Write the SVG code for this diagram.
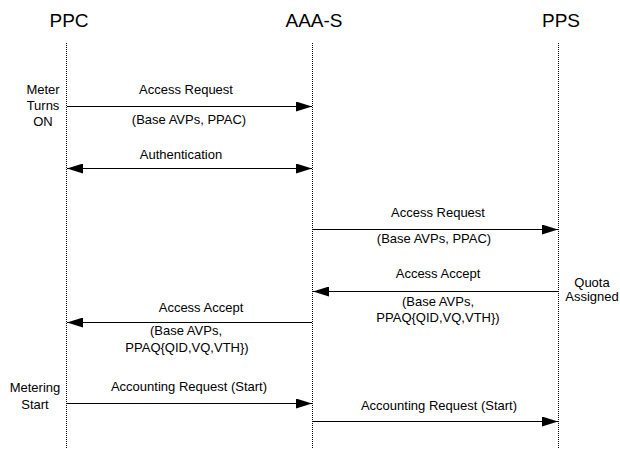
<svg xmlns="http://www.w3.org/2000/svg" width="620" height="449" viewBox="0 0 620 449">
  <style>
    .title { font-family: "Liberation Sans", Arial, sans-serif; font-size: 19px; fill: #000; text-anchor: middle; }
    .lbl { font-family: "Liberation Sans", Arial, sans-serif; font-size: 13px; fill: #000; text-anchor: middle; }
    .life { stroke: #000; stroke-width: 1; stroke-dasharray: 1 1; fill: none; }
    .msg { stroke: #000; stroke-width: 1.2; fill: none; marker-end: url(#ah); }
  </style>
  <defs>
    <marker id="ah" markerUnits="userSpaceOnUse" markerWidth="16" markerHeight="10" refX="16" refY="5" orient="auto-start-reverse" viewBox="0 0 16 10">
      <path d="M0,0 L16,5 L0,10 z" fill="#000"/>
    </marker>
  </defs>
  <rect width="620" height="449" fill="#fff"/>

  <g id="ppc">
    <text class="title" x="69" y="27">PPC</text>
    <line class="life" x1="66.5" y1="43" x2="66.5" y2="449"/>
  </g>
  <g id="aaa-s">
    <text class="title" x="314" y="27">AAA-S</text>
    <line class="life" x1="312.5" y1="43" x2="312.5" y2="449"/>
  </g>
  <g id="pps">
    <text class="title" x="561" y="27">PPS</text>
    <line class="life" x1="558.5" y1="43" x2="558.5" y2="449"/>
  </g>

  <g id="notes">
    <text class="lbl" x="43" y="94">Meter</text>
    <text class="lbl" x="43" y="110">Turns</text>
    <text class="lbl" x="43" y="126">ON</text>
    <text class="lbl" x="592" y="287">Quota</text>
    <text class="lbl" x="592" y="301">Assigned</text>
    <text class="lbl" x="35" y="392">Metering</text>
    <text class="lbl" x="35" y="409">Start</text>
  </g>

  <g id="connectors">
    <g id="m1">
      <line class="msg" x1="67" y1="106.5" x2="312" y2="106.5"/>
      <text class="lbl" x="186" y="94">Access Request</text>
      <text class="lbl" x="189" y="124">(Base AVPs, PPAC)</text>
    </g>
    <g id="m2">
      <line class="msg" x1="67" y1="168.5" x2="312" y2="168.5" style="marker-start:url(#ah)"/>
      <text class="lbl" x="181" y="159">Authentication</text>
    </g>
    <g id="m3">
      <line class="msg" x1="313" y1="229.5" x2="558" y2="229.5"/>
      <text class="lbl" x="438" y="217">Access Request</text>
      <text class="lbl" x="434" y="243">(Base AVPs, PPAC)</text>
    </g>
    <g id="m4">
      <line class="msg" x1="558" y1="291.5" x2="313" y2="291.5"/>
      <text class="lbl" x="438" y="278">Access Accept</text>
      <text class="lbl" x="438" y="306">(Base AVPs,</text>
      <text class="lbl" x="438" y="322">PPAQ{QID,VQ,VTH})</text>
    </g>
    <g id="m5">
      <line class="msg" x1="312" y1="322.5" x2="67" y2="322.5"/>
      <text class="lbl" x="201" y="312">Access Accept</text>
      <text class="lbl" x="186" y="335">(Base AVPs,</text>
      <text class="lbl" x="187" y="352">PPAQ{QID,VQ,VTH})</text>
    </g>
    <g id="m6">
      <line class="msg" x1="67" y1="403.5" x2="312" y2="403.5"/>
      <text class="lbl" x="189" y="391">Accounting Request (Start)</text>
    </g>
    <g id="m7">
      <line class="msg" x1="313" y1="421.5" x2="558" y2="421.5"/>
      <text class="lbl" x="439" y="410">Accounting Request (Start)</text>
    </g>
  </g>
</svg>
